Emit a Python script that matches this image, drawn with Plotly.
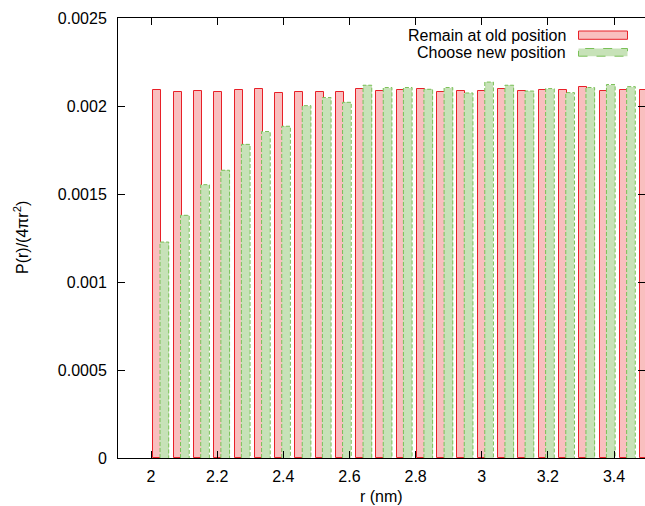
import plotly.graph_objects as go

# ---- data ----
r_centers = [2.030, 2.092, 2.153, 2.214, 2.276, 2.337, 2.398, 2.460, 2.521, 2.582,
             2.644, 2.705, 2.766, 2.828, 2.889, 2.950, 3.012, 3.073, 3.134, 3.196,
             3.257, 3.318, 3.380, 3.441, 3.503]
remain_old = [0.002093, 0.002082, 0.002085, 0.002080, 0.002091, 0.002097, 0.002076, 0.002080,
              0.002080, 0.002080, 0.002099, 0.002084, 0.002091, 0.002095, 0.002080, 0.002088,
              0.002084, 0.002099, 0.002084, 0.002089, 0.002093, 0.002106, 0.002085, 0.002089,
              0.002091]
choose_new = [0.001227, 0.001379, 0.001553, 0.001635, 0.001782, 0.001855, 0.001885, 0.002002,
              0.002048, 0.002021, 0.002118, 0.002105, 0.002105, 0.002095, 0.002105, 0.002074,
              0.002136, 0.002118, 0.002085, 0.002099, 0.002076, 0.002105, 0.002122, 0.002110,
              0.002108]
x_tickvals = [2.0, 2.2, 2.4, 2.6, 2.8, 3.0, 3.2, 3.4]
x_ticktext = ["2", "2.2", "2.4", "2.6", "2.8", "3", "3.2", "3.4"]
y_tickvals = [0, 0.0005, 0.001, 0.0015, 0.002, 0.0025]
y_ticktext = ["0", "0.0005", "0.001", "0.0015", "0.002", "0.0025"]
series_names = ["Remain at old position", "Choose new position"]

# ---- style ----
RED_FILL = "rgb(249,191,191)"
RED_LINE = "rgb(232,32,40)"
GRN_FILL = "rgb(199,226,184)"
GRN_LINE = "rgb(122,192,88)"
FONT = "Liberation Sans, Arial, Helvetica, sans-serif"

RED_OFF, RED_W = -0.0235, 0.0242
GRN_OFF, GRN_W = -0.0029, 0.0263

W, H = 645, 506
ML, MR, MT, MB = 118, 0, 18, 48
X0, X1 = 1.9, 3.4937

fig = go.Figure()
fig.add_trace(go.Bar(x=r_centers, y=remain_old, offset=RED_OFF, width=RED_W,
                     marker=dict(color=RED_FILL, line=dict(color=RED_LINE, width=1)),
                     name=series_names[0], showlegend=False))
fig.add_trace(go.Bar(x=r_centers, y=choose_new, offset=GRN_OFF, width=GRN_W,
                     marker=dict(color=GRN_FILL, line=dict(width=0)),
                     name=series_names[1], showlegend=False))

# dashed outline of green bars, built from the data
ox, oy = [], []
for c, v in zip(r_centers, choose_new):
    l = c + GRN_OFF
    rr = l + GRN_W
    ox += [l, l, rr, rr, None]
    oy += [0, v, v, 0, None]
fig.add_trace(go.Scatter(x=ox, y=oy, mode="lines", hoverinfo="skip",
                         line=dict(color=GRN_LINE, width=1, dash="4px,2px"),
                         showlegend=False))

fig.update_layout(
    width=W, height=H,
    margin=dict(l=ML, r=MR, t=MT, b=MB, pad=0),
    paper_bgcolor="white", plot_bgcolor="white",
    barmode="overlay", bargap=0,
    font=dict(family=FONT, size=16, color="black"),
    showlegend=False,
)
fig.update_xaxes(range=[X0, X1], tickvals=x_tickvals, ticktext=x_ticktext,
                 ticks="inside", ticklen=7, tickwidth=1, tickcolor="black",
                 showline=True, linecolor="black", linewidth=1, mirror="ticks",
                 showgrid=False, zeroline=False, ticklabelstandoff=4,
                 tickfont=dict(family=FONT, size=16, color="black"))
fig.update_yaxes(range=[0, 0.0025], tickvals=y_tickvals, ticktext=y_ticktext,
                 ticks="inside", ticklen=7, tickwidth=1, tickcolor="black",
                 showline=True, linecolor="black", linewidth=1, mirror="ticks",
                 showgrid=False, zeroline=False, ticklabelstandoff=7,
                 tickfont=dict(family=FONT, size=16, color="black"))

pw = W - ML - MR
ph = H - MT - MB
def px(x):
    return (x - ML) / pw
def py(y):
    return (H - MB - y) / ph

# axis titles
fig.add_annotation(text="r (nm)", xref="paper", yref="paper", x=0.5, y=py(496),
                   xanchor="center", yanchor="middle", showarrow=False,
                   font=dict(family=FONT, size=16, color="black"))
fig.add_annotation(text="P(r)/(4πr<sup>2</sup>)", xref="paper", yref="paper",
                   x=px(21), y=py(238), xanchor="center", yanchor="middle",
                   textangle=-90, showarrow=False,
                   font=dict(family=FONT, size=16, color="black"))

# legend (gnuplot style: text left, sample right)
leg = [(series_names[0], 35.2, RED_FILL, RED_LINE, "solid", 31, 39.3),
       (series_names[1], 52.4, GRN_FILL, GRN_LINE, "dash", 48.5, 56.2)]
for name, yc, fc, lc, dash, y_top, y_bot in leg:
    fig.add_annotation(text=name, xref="paper", yref="paper", x=px(568), y=py(yc),
                       xanchor="right", yanchor="middle", showarrow=False,
                       font=dict(family=FONT, size=16, color="black"))
    fig.add_shape(type="rect", xref="paper", yref="paper",
                  x0=px(578.5), x1=px(627.5), y0=py(y_bot), y1=py(y_top),
                  fillcolor=fc, line=dict(color=lc, width=1, dash=dash))

fig.write_html("out.html")
